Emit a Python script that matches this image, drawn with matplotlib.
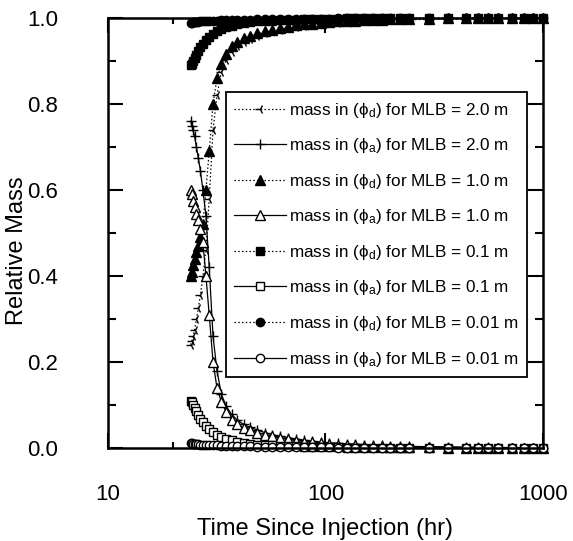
import matplotlib
matplotlib.use("Agg")
import matplotlib.pyplot as plt
from matplotlib.ticker import FixedLocator, NullFormatter

plt.rcParams['font.family'] = ['Liberation Sans', 'DejaVu Sans']
plt.rcParams['mathtext.fontset'] = 'custom'
plt.rcParams['mathtext.rm'] = 'Liberation Sans'
plt.rcParams['mathtext.it'] = 'Liberation Sans:italic'

# ---- data ----
time_hr = [24.0, 24.3, 24.6, 25.0, 25.5, 26.0, 26.6, 27.3, 28.2, 29.2, 30.4, 31.7,
           33.2, 35.0, 37.0, 39.3, 42.0, 45.0, 48.5, 52.5, 57.0, 62.0, 67.5, 73.5,
           80.0, 87.0, 95.0, 104.0, 114.0, 125.0, 137.0, 150.0, 165.0, 181.0, 199.0,
           219.0, 241.0, 300.0, 365.0, 445.0, 500.0, 560.0, 620.0, 720.0, 820.0,
           900.0, 1000.0]

phi_a_2_0 = [0.76, 0.75, 0.74, 0.725, 0.70, 0.675, 0.645, 0.60, 0.54, 0.42, 0.26, 0.18,
             0.125, 0.097, 0.078, 0.065, 0.055, 0.048, 0.042, 0.036, 0.031, 0.027, 0.024, 0.021,
             0.018, 0.016, 0.014, 0.012, 0.011, 0.010, 0.009, 0.008, 0.007, 0.006, 0.005,
             0.005, 0.004, 0.003, 0.003, 0.002, 0.002, 0.002, 0.001, 0.001, 0.001,
             0.001, 0.001]
phi_d_2_0 = [0.24, 0.25, 0.26, 0.275, 0.30, 0.325, 0.355, 0.40, 0.46, 0.58, 0.74, 0.82,
             0.875, 0.903, 0.922, 0.935, 0.945, 0.952, 0.958, 0.964, 0.969, 0.973, 0.976, 0.979,
             0.982, 0.984, 0.986, 0.988, 0.989, 0.990, 0.991, 0.992, 0.993, 0.994, 0.995,
             0.995, 0.996, 0.997, 0.997, 0.998, 0.998, 0.998, 0.999, 0.999, 0.999,
             0.999, 0.999]

phi_a_1_0 = [0.60, 0.59, 0.575, 0.56, 0.545, 0.53, 0.51, 0.48, 0.40, 0.31, 0.20, 0.14,
             0.107, 0.083, 0.066, 0.055, 0.047, 0.041, 0.036, 0.031, 0.027, 0.023, 0.020, 0.017,
             0.015, 0.013, 0.011, 0.009, 0.008, 0.007, 0.006, 0.005, 0.004, 0.004, 0.003,
             0.003, 0.002, 0.002, 0.001, 0.001, 0.0, 0.0, 0.0, 0.0, 0.0,
             0.0, 0.0]
phi_d_1_0 = [0.40, 0.41, 0.425, 0.44, 0.455, 0.47, 0.49, 0.52, 0.60, 0.69, 0.80, 0.86,
             0.893, 0.917, 0.934, 0.945, 0.953, 0.959, 0.964, 0.969, 0.973, 0.977, 0.980, 0.983,
             0.985, 0.987, 0.989, 0.991, 0.992, 0.993, 0.994, 0.995, 0.996, 0.996, 0.997,
             0.997, 0.998, 0.998, 0.999, 0.999, 1.0, 1.0, 1.0, 1.0, 1.0,
             1.0, 1.0]

phi_a_0_1 = [0.11, 0.107, 0.10, 0.094, 0.085, 0.077, 0.068, 0.060, 0.051, 0.045, 0.037, 0.031,
             0.026, 0.022, 0.019, 0.015, 0.012, 0.010, 0.008, 0.007, 0.006, 0.005, 0.004, 0.004,
             0.003, 0.003, 0.002, 0.002, 0.002, 0.001, 0.001, 0.001, 0.001, 0.0, 0.0,
             0.0, 0.0, 0.0, 0.0, 0.0, 0.0, 0.0, 0.0, 0.0, 0.0,
             0.0, 0.0]
phi_d_0_1 = [0.89, 0.893, 0.90, 0.906, 0.915, 0.923, 0.932, 0.940, 0.949, 0.955, 0.963, 0.969,
             0.974, 0.978, 0.981, 0.985, 0.988, 0.990, 0.992, 0.993, 0.994, 0.995, 0.996, 0.996,
             0.997, 0.997, 0.998, 0.998, 0.998, 0.999, 0.999, 0.999, 0.999, 1.0, 1.0,
             1.0, 1.0, 1.0, 1.0, 1.0, 1.0, 1.0, 1.0, 1.0, 1.0,
             1.0, 1.0]

phi_a_0_01 = [0.011, 0.011, 0.010, 0.010, 0.009, 0.009, 0.008, 0.008, 0.007, 0.007, 0.006, 0.006,
              0.005, 0.005, 0.005, 0.004, 0.004, 0.004, 0.003, 0.003, 0.003, 0.003, 0.002, 0.002,
              0.002, 0.002, 0.002, 0.002, 0.001, 0.001, 0.001, 0.001, 0.001, 0.001, 0.001,
              0.001, 0.001, 0.001, 0.001, 0.001, 0.001, 0.001, 0.001, 0.001, 0.001,
              0.001, 0.001]
phi_d_0_01 = [0.989, 0.989, 0.990, 0.990, 0.991, 0.991, 0.992, 0.992, 0.993, 0.993, 0.994, 0.994,
              0.995, 0.995, 0.995, 0.996, 0.996, 0.996, 0.997, 0.997, 0.997, 0.997, 0.998, 0.998,
              0.998, 0.998, 0.998, 0.998, 0.999, 0.999, 0.999, 0.999, 0.999, 0.999, 0.999,
              0.999, 0.999, 0.999, 0.999, 0.999, 0.999, 0.999, 0.999, 0.999, 0.999,
              0.999, 0.999]

x_ticks = [10, 100, 1000]
x_tick_labels = ["10", "100", "1000"]
y_ticks = [0.0, 0.2, 0.4, 0.6, 0.8, 1.0]
y_tick_labels = ["0.0", "0.2", "0.4", "0.6", "0.8", "1.0"]

# ---- figure ----
fig = plt.figure(figsize=(5.73, 5.41), dpi=100)
ax = fig.add_axes([0.1885, 0.1719, 0.7591, 0.7948])

dot = (0, (1.2, 1.8))
lw = 0.9
series = [
    (phi_d_2_0, dot, '3', 'k', 6.5, 'mass in (ϕ$_\\mathrm{d}$) for MLB = 2.0 m'),
    (phi_a_2_0, '-', '+', 'k', 7.5, 'mass in (ϕ$_\\mathrm{a}$) for MLB = 2.0 m'),
    (phi_d_1_0, dot, '^', 'k', 6.5, 'mass in (ϕ$_\\mathrm{d}$) for MLB = 1.0 m'),
    (phi_a_1_0, '-', '^', 'w', 7, 'mass in (ϕ$_\\mathrm{a}$) for MLB = 1.0 m'),
    (phi_d_0_1, dot, 's', 'k', 6, 'mass in (ϕ$_\\mathrm{d}$) for MLB = 0.1 m'),
    (phi_a_0_1, '-', 's', 'w', 6, 'mass in (ϕ$_\\mathrm{a}$) for MLB = 0.1 m'),
    (phi_d_0_01, dot, 'o', 'k', 6, 'mass in (ϕ$_\\mathrm{d}$) for MLB = 0.01 m'),
    (phi_a_0_01, '-', 'o', 'w', 6, 'mass in (ϕ$_\\mathrm{a}$) for MLB = 0.01 m'),
]
for vals, ls, mk, fc, ms, lab in series:
    ax.plot(time_hr, vals, linestyle=ls, color='k', linewidth=lw, marker=mk,
            markerfacecolor=fc, markeredgecolor='k', markersize=ms,
            markeredgewidth=1.0, label=lab, clip_on=False)

ax.set_xscale('log')
ax.set_xlim(10, 1000)
ax.set_ylim(0.0, 1.0)
ax.xaxis.set_major_locator(FixedLocator(x_ticks))
ax.set_xticklabels(x_tick_labels)
ax.xaxis.set_minor_locator(FixedLocator([20]))
ax.xaxis.set_minor_formatter(NullFormatter())
ax.set_yticks(y_ticks)
ax.set_yticklabels(y_tick_labels)
ax.yaxis.set_minor_locator(FixedLocator([0.1, 0.3, 0.5, 0.7, 0.9]))

ax.tick_params(which='both', direction='in', top=True, right=True, width=1.5,
               labelsize=16, colors='k')
ax.tick_params(which='major', length=11)
ax.tick_params(axis='x', which='major', pad=26)
ax.tick_params(axis='y', which='major', pad=36)
ax.tick_params(axis='x', which='minor', length=4)
ax.tick_params(axis='y', which='minor', length=6)
for sp in ax.spines.values():
    sp.set_linewidth(1.8)

ax.set_xlabel('Time Since Injection (hr)', fontsize=17, labelpad=9)
ax.set_ylabel('Relative Mass', fontsize=17)
ax.yaxis.set_label_coords(-0.185, 0.46)

leg = ax.legend(loc='upper left', bbox_to_anchor=(0.271, 0.828), borderaxespad=0,
                fontsize=12.3, frameon=True, fancybox=False, edgecolor='k',
                handlelength=3.0, handletextpad=0.2, labelspacing=0.97,
                borderpad=0.5, framealpha=1)
leg.get_frame().set_linewidth(1.3)

fig.savefig('out.png', dpi=100)
